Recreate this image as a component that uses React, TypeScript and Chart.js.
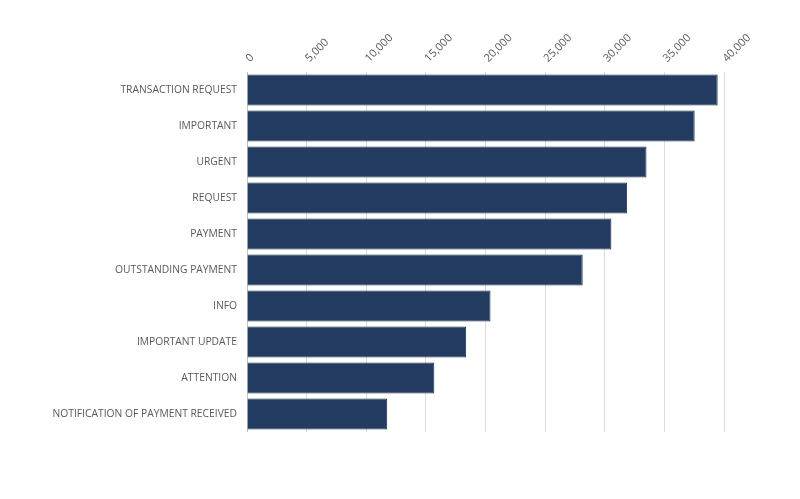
import React, { useEffect, useRef } from "react";
import { Chart, registerables } from "chart.js";

Chart.register(...registerables);

const categories = [
  "TRANSACTION REQUEST",
  "IMPORTANT",
  "URGENT",
  "REQUEST",
  "PAYMENT",
  "OUTSTANDING PAYMENT",
  "INFO",
  "IMPORTANT UPDATE",
  "ATTENTION",
  "NOTIFICATION OF PAYMENT RECEIVED",
];

const counts = [39470, 37540, 33500, 31880, 30560, 28150, 20420, 18380, 15710, 11760];

const xTicks = [0, 5000, 10000, 15000, 20000, 25000, 30000, 35000, 40000];

export default function App() {
  const ref = useRef<HTMLCanvasElement | null>(null);

  useEffect(() => {
    document.body.style.margin = "0";
    const canvas = ref.current;
    if (!canvas) return;
    const chart = new Chart(canvas, {
      type: "bar",
      data: {
        labels: categories,
        datasets: [
          {
            data: counts,
            backgroundColor: "#233b60",
            borderColor: "#1a2e4e",
            borderWidth: 1,
            barPercentage: 0.86,
            categoryPercentage: 1,
          },
        ],
      },
      options: {
        indexAxis: "y",
        animation: false,
        responsive: false,
        maintainAspectRatio: false,
        layout: { padding: { left: 0, right: 76, top: 0, bottom: 67 } },
        plugins: {
          legend: { display: false },
          tooltip: { enabled: false },
        },
        scales: {
          x: {
            position: "top",
            min: 0,
            max: 40000,
            afterFit: (scale: any) => {
              scale.height = 72;
            },
            afterBuildTicks: (scale: any) => {
              scale.ticks = xTicks.map((v) => ({ value: v }));
            },
            grid: {
              color: (ctx: any) => (ctx.index === 0 ? "#c4c4c4" : "#dcdcdc"),
              drawTicks: false,
              lineWidth: 1,
            },
            border: { display: false },
            ticks: {
              minRotation: 45,
              maxRotation: 45,
              padding: 7,
              labelOffset: 10,
              color: "#595959",
              font: { family: "Open Sans", size: 11 },
              callback: (v: any) => Number(v).toLocaleString("en-US"),
            },
          },
          y: {
            afterFit: (scale: any) => {
              scale.width = 247;
            },
            grid: { display: false, drawTicks: false },
            border: { display: false },
            ticks: {
              padding: 10,
              color: "#595959",
              font: { family: "Open Sans", size: 10.3 },
            },
          },
        },
      },
    });
    return () => chart.destroy();
  }, []);

  return (
    <div style={{ width: 800, height: 499 }}>
      <canvas ref={ref} width={800} height={499} style={{ display: "block" }} />
    </div>
  );
}
